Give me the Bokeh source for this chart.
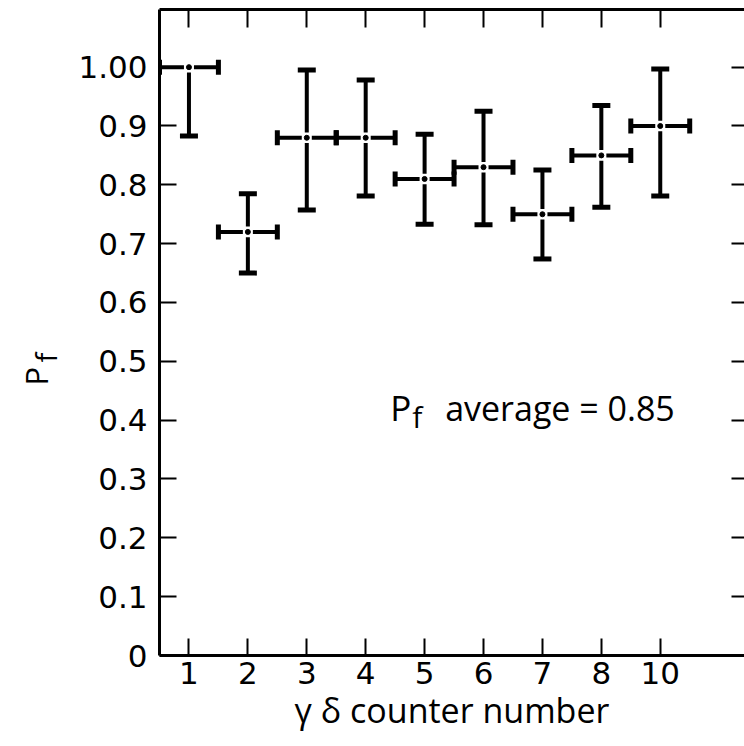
import math
from bokeh.plotting import figure
from bokeh.layouts import row
from bokeh.models import FixedTicker, LinearAxis, Range1d, Label
from bokeh.core.properties import value
from bokeh.embed import file_html
from bokeh.resources import INLINE

# ---- data ----
positions = [1, 2, 3, 4, 5, 6, 7, 8, 9]
counter_labels = ["1", "2", "3", "4", "5", "6", "7", "8", "10"]
pf = [1.00, 0.72, 0.88, 0.88, 0.81, 0.83, 0.75, 0.85, 0.90]
pf_upper = [1.00, 0.785, 0.995, 0.978, 0.886, 0.925, 0.825, 0.935, 0.997]
pf_lower = [0.883, 0.65, 0.757, 0.781, 0.733, 0.732, 0.674, 0.762, 0.781]
x_left = [0.5, 1.5, 2.5, 3.5, 4.5, 5.5, 6.5, 7.5, 8.5]
x_right = [1.5, 2.5, 3.5, 4.5, 5.5, 6.5, 7.5, 8.5, 9.5]
y_ticks = [0, 0.1, 0.2, 0.3, 0.4, 0.5, 0.6, 0.7, 0.8, 0.9, 1.0]
y_tick_labels = ["0", "0.1", "0.2", "0.3", "0.4", "0.5", "0.6", "0.7", "0.8", "0.9", "1.00"]
x_title = "\u03b3 \u03b4 counter number"
y_title_main, y_title_sub = "P", "f"
avg_main, avg_sub, avg_rest = "P", "f", "average = 0.85"
avg_x, avg_y = 4.415, 0.421

FONT = "Open Sans"
TICK_FONT = "DejaVu Sans"
W_TOTAL, H_TOTAL = 744, 746
W_TITLE = 74              # narrow panel holding the rotated y title
BORDER_TOP, BORDER_BOTTOM = 9, 91
X0, X1 = 0.5, 10.43
Y0, Y1 = 0.0, 1.098
GAP_X = 0.085   # small break beside the centre dot (style)
GAP_Y = 0.009

# ---------- y-title panel (same vertical data range as the main plot) ----------
pt = figure(width=W_TITLE, height=H_TOTAL, x_range=Range1d(0, W_TITLE), y_range=Range1d(Y0, Y1),
            x_axis_type=None, y_axis_type=None, output_backend="svg", toolbar_location=None,
            min_border_left=0, min_border_right=0,
            min_border_top=BORDER_TOP, min_border_bottom=BORDER_BOTTOM)
pt.outline_line_color = None
pt.background_fill_color = "white"
pt.border_fill_color = "white"
pt.text(x=[35], y=[0.459], text=[y_title_main], angle=math.pi / 2,
        text_font=value(FONT), text_font_size="31px", text_baseline="alphabetic",
        text_align="left", text_color="black")
pt.text(x=[45], y=[0.498], text=[y_title_sub], angle=math.pi / 2,
        text_font=value(FONT), text_font_size="29px", text_baseline="alphabetic",
        text_align="left", text_color="black")

# ---------- main plot ----------
p = figure(width=W_TOTAL - W_TITLE, height=H_TOTAL, x_range=Range1d(X0, X1), y_range=Range1d(Y0, Y1),
           x_axis_type=None, y_axis_type=None,
           output_backend="svg", toolbar_location=None,
           min_border_left=159 - W_TITLE, min_border_right=0,
           min_border_top=BORDER_TOP, min_border_bottom=BORDER_BOTTOM)
p.outline_line_color = None
p.background_fill_color = "white"
p.border_fill_color = "white"

def style_axis(ax, tick_in, labels=True):
    ax.axis_line_width = 3
    ax.axis_line_color = "black"
    ax.major_tick_in = tick_in
    ax.major_tick_out = 0
    ax.major_tick_line_width = 2
    ax.major_tick_line_color = "black"
    ax.minor_tick_line_color = None
    if labels:
        ax.major_label_text_font = TICK_FONT
        ax.major_label_text_font_size = "31px"
        ax.major_label_text_color = "black"
    else:
        ax.major_label_text_font_size = "0px"
        ax.major_label_standoff = 0

bottom = LinearAxis(ticker=FixedTicker(ticks=positions),
                    major_label_overrides={pos: lab for pos, lab in zip(positions, counter_labels)})
style_axis(bottom, 17)
bottom.major_label_standoff = 6
bottom.axis_label = x_title
bottom.axis_label_text_font = FONT
bottom.axis_label_text_font_size = "34px"
bottom.axis_label_text_font_style = "normal"
bottom.axis_label_text_color = "black"
bottom.axis_label_standoff = 0
p.add_layout(bottom, "below")

top = LinearAxis(ticker=FixedTicker(ticks=positions),
                 major_label_overrides={pos: "" for pos in positions})
style_axis(top, 18, labels=False)
p.add_layout(top, "above")

left = LinearAxis(ticker=FixedTicker(ticks=y_ticks),
                  major_label_overrides={t: lab for t, lab in zip(y_ticks, y_tick_labels)})
style_axis(left, 17)
left.major_label_standoff = 12
p.add_layout(left, "left")

right = LinearAxis(ticker=FixedTicker(ticks=y_ticks),
                   major_label_overrides={t: "" for t in y_ticks})
style_axis(right, 13, labels=False)
right.axis_line_alpha = 0
p.add_layout(right, "right")

# ---- error-bar stems with a small break around the centre dot ----
vx0, vy0, vx1, vy1 = [], [], [], []
for x, y, lo, up in zip(positions, pf, pf_lower, pf_upper):
    vx0.append(x); vy0.append(lo); vx1.append(x); vy1.append(y - GAP_Y)
    if up > y + GAP_Y:
        vx0.append(x); vy0.append(y + GAP_Y); vx1.append(x); vy1.append(up)
p.segment(vx0, vy0, vx1, vy1, line_color="black", line_width=4)

hx0, hy0, hx1, hy1 = [], [], [], []
for x, y, xl, xr in zip(positions, pf, x_left, x_right):
    hx0 += [xl, x + GAP_X]; hx1 += [x - GAP_X, xr]; hy0 += [y, y]; hy1 += [y, y]
p.segment(hx0, hy0, hx1, hy1, line_color="black", line_width=4)

# caps
cap_vx = positions + [x for x, y, up in zip(positions, pf, pf_upper) if up > y]
cap_vy = pf_lower + [up for y, up in zip(pf, pf_upper) if up > y]
p.scatter(cap_vx, cap_vy, marker="dash", size=18, line_width=5, line_color="black")
p.scatter(x_left + x_right, pf + pf, marker="dash", size=15, angle=math.pi / 2,
          line_width=5, line_color="black")

# centre dots
p.scatter(positions, pf, marker="circle", size=5, fill_color="black", line_color="black")

# ---- in-plot annotation ----
p.add_layout(Label(x=avg_x, y=avg_y, text=avg_main, text_font=FONT, text_font_size="35px",
                   text_baseline="alphabetic", text_align="left", text_color="black"))
p.add_layout(Label(x=avg_x, y=avg_y, x_offset=22, y_offset=-9, text=avg_sub, text_font=FONT,
                   text_font_size="30px", text_baseline="alphabetic", text_align="left",
                   text_color="black"))
p.add_layout(Label(x=avg_x, y=avg_y, x_offset=55, text=avg_rest, text_font=FONT,
                   text_font_size="34px", text_baseline="alphabetic", text_align="left",
                   text_color="black"))

layout = row(pt, p)
open("out.html", "w").write(file_html(layout, INLINE))
